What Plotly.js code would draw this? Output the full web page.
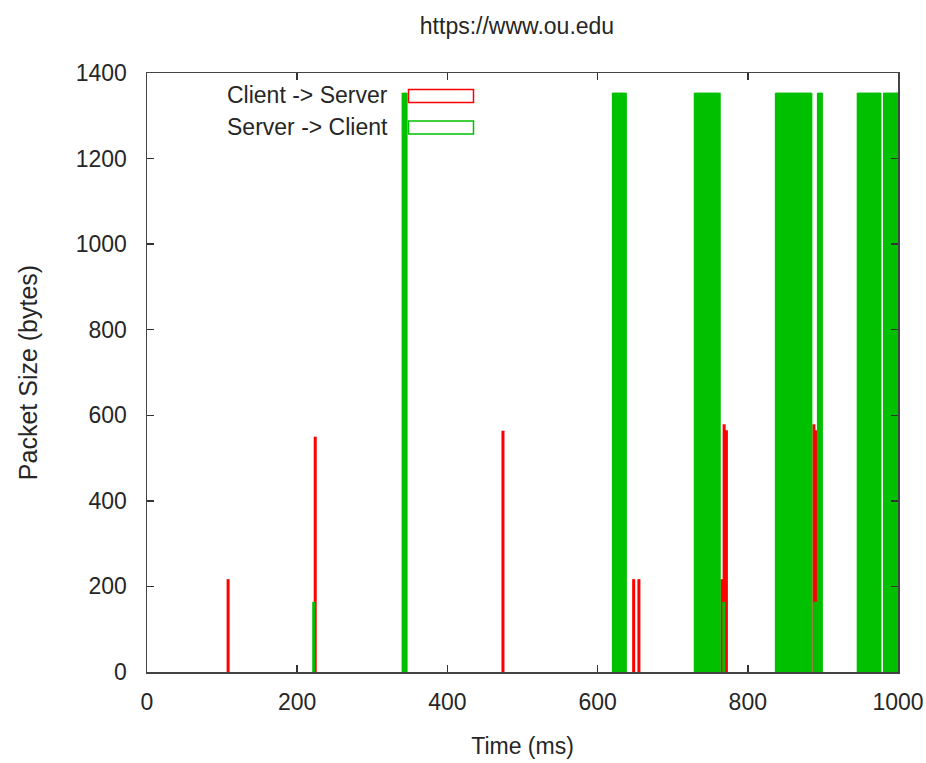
<!DOCTYPE html>
<html>
<head>
<meta charset="utf-8">
<script src="https://cdn.plot.ly/plotly-3.0.1.min.js"></script>
<style>
  html, body { margin: 0; padding: 0; background: #ffffff; }
  #chart { width: 926px; height: 763px; }
</style>
</head>
<body>
<div id="chart"></div>
<script>
// ---- Data ----
const chartTitle = "https://www.ou.edu";
const seriesNames = ["Client -> Server", "Server -> Client"];

// Client -> Server packets: time (ms) and size (bytes)
const clientTimes = [108, 224, 474, 648, 655, 765.5, 768.5, 771.5, 888, 890.5];
const clientSizes = [217, 550, 564, 217, 217, 217, 579, 565, 579, 565];

// Server -> Client packets: time (ms) and size (bytes)
const serverTimes = [
  222,
  341, 343, 345,
  621, 623, 625, 627, 629, 631, 633, 635, 637,
  730, 732, 734, 736, 738, 740, 742, 744, 746, 748, 750, 752, 754, 756, 758, 760, 762,
  768,
  838, 840, 842, 844, 846, 848, 850, 852, 854, 856, 858, 860, 862, 864, 866, 868, 870, 872, 874, 876, 878, 880, 882, 884,
  889, 891,
  894, 896, 898,
  947, 949, 951, 953, 955, 957, 959, 961, 963, 965, 967, 969, 971, 973, 975, 976,
  982, 984, 986, 988, 990, 992, 994, 996, 998, 999
];
const serverSizes = [
  164,
  1354, 1354, 1354,
  1354, 1354, 1354, 1354, 1354, 1354, 1354, 1354, 1354,
  1354, 1354, 1354, 1354, 1354, 1354, 1354, 1354, 1354, 1354, 1354, 1354, 1354, 1354, 1354, 1354, 1354,
  164,
  1354, 1354, 1354, 1354, 1354, 1354, 1354, 1354, 1354, 1354, 1354, 1354, 1354, 1354, 1354, 1354, 1354, 1354, 1354, 1354, 1354, 1354, 1354, 1354,
  164, 164,
  1354, 1354, 1354,
  1354, 1354, 1354, 1354, 1354, 1354, 1354, 1354, 1354, 1354, 1354, 1354, 1354, 1354, 1354, 1354,
  1354, 1354, 1354, 1354, 1354, 1354, 1354, 1354, 1354, 1354
];

const xTickVals = [0, 200, 400, 600, 800, 1000];
const yTickVals = [0, 200, 400, 600, 800, 1000, 1200, 1400];

// ---- Build impulse paths (vertical line from 0 to value for each packet) ----
function impulses(times, sizes) {
  const xs = [], ys = [];
  for (let i = 0; i < times.length; i++) {
    xs.push(times[i], times[i], null);
    ys.push(0, sizes[i], null);
  }
  return { x: xs, y: ys };
}

const RED = "#ff0000";
const GREEN = "#00c000";
const FONT = "Liberation Sans, Arial, sans-serif";
const TXT = "#262626";

const c = impulses(clientTimes, clientSizes);
const s = impulses(serverTimes, serverSizes);

const traces = [
  { x: c.x, y: c.y, type: "scatter", mode: "lines", name: seriesNames[0],
    line: { color: RED, width: 3 }, connectgaps: false, hoverinfo: "skip" },
  { x: s.x, y: s.y, type: "scatter", mode: "lines", name: seriesNames[1],
    line: { color: GREEN, width: 3 }, connectgaps: false, hoverinfo: "skip" }
];

// plot area in pixels: x 147..898, y 73..672
const L = 147, R = 898, T = 73, B = 672;
const px2x = p => (p - L) / (R - L);
const px2y = p => 1 - (p - T) / (B - T);

const layout = {
  width: 926, height: 763,
  paper_bgcolor: "#ffffff", plot_bgcolor: "#ffffff",
  margin: { l: L, r: 926 - R, t: T, b: 763 - B, pad: 0 },
  showlegend: false,
  font: { family: FONT, size: 23, color: TXT },
  title: {
    text: chartTitle, font: { family: FONT, size: 23, color: TXT },
    x: 517 / 926, xref: "container", xanchor: "center",
    y: 1 - 26 / 763, yref: "container", yanchor: "middle"
  },
  xaxis: {
    range: [0, 1000], tickvals: xTickVals, ticktext: xTickVals.map(String),
    ticks: "inside", ticklen: 7, tickwidth: 1.5, tickcolor: "#333",
    showline: true, linecolor: "#444", linewidth: 1.5, mirror: "ticks",
    showgrid: false, zeroline: false,
    tickfont: { family: FONT, size: 23, color: TXT },
    ticklabelstandoff: 9,
    title: { text: "Time (ms)", font: { family: FONT, size: 23, color: TXT }, standoff: 24 },
    automargin: false, fixedrange: true
  },
  yaxis: {
    range: [0, 1400], tickvals: yTickVals, ticktext: yTickVals.map(String),
    ticks: "inside", ticklen: 7, tickwidth: 1.5, tickcolor: "#333",
    showline: true, linecolor: "#444", linewidth: 1.5, mirror: "ticks",
    showgrid: false, zeroline: false,
    tickfont: { family: FONT, size: 23, color: TXT },
    ticklabelstandoff: 14,
    title: { text: "Packet Size (bytes)", font: { family: FONT, size: 25, color: TXT }, standoff: 31 },
    automargin: false, fixedrange: true
  },
  annotations: [
    { text: seriesNames[0], xref: "paper", yref: "paper", x: px2x(390), y: px2y(95),
      xanchor: "right", yanchor: "middle", showarrow: false,
      font: { family: FONT, size: 23, color: TXT } },
    { text: seriesNames[1], xref: "paper", yref: "paper", x: px2x(390), y: px2y(127),
      xanchor: "right", yanchor: "middle", showarrow: false,
      font: { family: FONT, size: 23, color: TXT } }
  ],
  shapes: [
    { type: "rect", xref: "paper", yref: "paper",
      x0: px2x(408.5), x1: px2x(473.5), y0: px2y(102.5), y1: px2y(89.5),
      line: { color: RED, width: 1.5 }, fillcolor: "#ffffff", layer: "above" },
    { type: "rect", xref: "paper", yref: "paper",
      x0: px2x(408.5), x1: px2x(473.5), y0: px2y(134), y1: px2y(121),
      line: { color: GREEN, width: 1.5 }, fillcolor: "#ffffff", layer: "above" }
  ]
};

Plotly.newPlot("chart", traces, layout, { staticPlot: true, displayModeBar: false });
</script>
</body>
</html>
